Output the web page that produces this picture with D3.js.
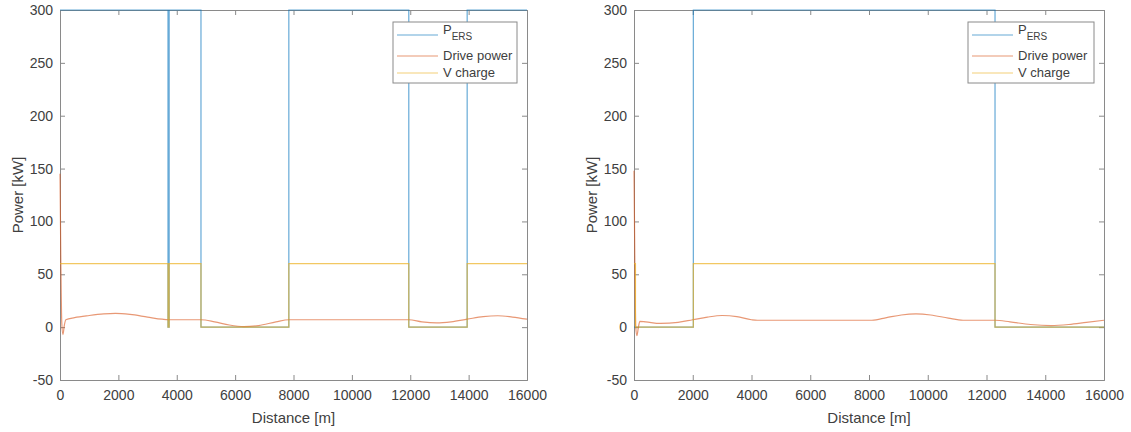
<!DOCTYPE html>
<html>
<head>
<meta charset="utf-8">
<script src="https://cdn.jsdelivr.net/npm/d3@7"></script>
<style>
  body { margin: 0; background: #fff; }
  svg text { font-family: "Liberation Sans", Arial, sans-serif; fill: #404040; }
  .axis path, .axis line { stroke: #8a8a8a; }
  .axis text { font-size: 14px; }
  .axis-title { font-size: 15px; }
  .legend text { font-size: 13px; }
</style>
</head>
<body>
<svg id="chart" width="1131" height="432"></svg>
<script>
// ---- data ----
const xTicks = [0, 2000, 4000, 6000, 8000, 10000, 12000, 14000, 16000];
const yTicks = [-50, 0, 50, 100, 150, 200, 250, 300];
const seriesNames = ['P', 'Drive power', 'V charge'];
const seriesColors = ['#0072BD', '#D95319', '#EDB120'];

// left panel: step changes [distance, value]
const leftPersDist = [0, 3700, 3740, 4830, 7840, 11950, 13950, 16000];
const leftPersVal  = [300, 0, 300, 0, 300, 0, 300, 300];
const leftChargeDist = [0, 3700, 3740, 4830, 7840, 11950, 13950, 16000];
const leftChargeVal  = [60, 0, 60, 0, 60, 0, 60, 60];
const leftDriveDist = [0, 30, 60, 100, 150, 200, 500, 1000, 1500, 1900, 2400, 3000, 3500, 3700,
  4830, 5300, 5800, 6300, 6800, 7400, 7840, 11950, 12400, 12900, 13400, 13950, 14500, 15000, 15500, 16000];
const leftDriveVal = [145, 60, 5, -7, 2, 7, 9, 11, 12.5, 13, 12, 9.5, 7.5, 7,
  7, 5, 2, 0.5, 1.5, 5, 7, 7, 5, 4, 5, 7.5, 10, 10.8, 9.5, 7.5];

// right panel
const rightPersDist = [0, 2020, 12290, 16000];
const rightPersVal  = [0, 300, 0, 0];
const rightChargeDist = [0, 50, 2020, 12290, 16000];
const rightChargeVal  = [60, 0, 60, 0, 0];
const rightDriveDist = [0, 30, 60, 100, 150, 200, 400, 900, 1500, 2000, 2500, 3000, 3500, 4000, 4200,
  8100, 8600, 9100, 9600, 10100, 10700, 11200, 12300, 12800, 13500, 14200, 14800, 15400, 16000];
const rightDriveVal = [148, 60, 0, -8, 0, 5.5, 5, 3.5, 4.5, 7, 9.5, 11, 10, 7, 6.5,
  6.5, 9, 11.5, 12.5, 11.5, 8.5, 6.5, 6.5, 5, 2.5, 1.5, 2.5, 4.5, 6.5];

const zip = (xs, ys) => xs.map((x, i) => ({x: x, y: ys[i]}));
const plain = d => String(d);   // plain hyphen for negatives, like the original

const svg = d3.select('#chart');

function drawPanel(cfg) {
  const g = svg.append('g');
  const xScale = d3.scaleLinear().domain([0, 16000]).range([cfg.left, cfg.right]);
  const yScale = d3.scaleLinear().domain([-50, 300]).range([cfg.bottom, cfg.top]);

  const stepLine = d3.line().x(d => xScale(d.x)).y(d => yScale(d.y)).curve(d3.curveStepAfter);
  const smoothLine = d3.line().x(d => xScale(d.x)).y(d => yScale(d.y)).curve(d3.curveMonotoneX);

  // box + inward ticks on all four sides (matlab style)
  g.append('g').attr('class', 'axis')
      .attr('transform', `translate(0,${cfg.bottom})`)
      .call(d3.axisBottom(xScale).tickValues(xTicks).tickSize(-5).tickPadding(10).tickFormat(plain));
  g.append('g').attr('class', 'axis')
      .attr('transform', `translate(0,${cfg.top})`)
      .call(d3.axisTop(xScale).tickValues(xTicks).tickSize(-5).tickFormat(''));
  g.append('g').attr('class', 'axis')
      .attr('transform', `translate(${cfg.left},0)`)
      .call(d3.axisLeft(yScale).tickValues(yTicks).tickSize(-5).tickPadding(7).tickFormat(plain));
  g.append('g').attr('class', 'axis')
      .attr('transform', `translate(${cfg.right},0)`)
      .call(d3.axisRight(yScale).tickValues(yTicks).tickSize(-5).tickFormat(''));

  const lines = g.append('g');
  lines.append('path')
      .attr('d', stepLine(zip(cfg.persDist, cfg.persVal)))
      .attr('fill', 'none').attr('stroke', seriesColors[0]).attr('stroke-opacity', 0.6).attr('stroke-width', 1.2);
  lines.append('path')
      .attr('d', smoothLine(zip(cfg.driveDist, cfg.driveVal)))
      .attr('fill', 'none').attr('stroke', seriesColors[1]).attr('stroke-opacity', 0.6).attr('stroke-width', 1.2);
  lines.append('path')
      .attr('d', stepLine(zip(cfg.chargeDist, cfg.chargeVal)))
      .attr('fill', 'none').attr('stroke', seriesColors[2]).attr('stroke-opacity', 0.7).attr('stroke-width', 1.2);

  // axis titles
  g.append('text')
      .attr('class', 'axis-title')
      .attr('x', (cfg.left + cfg.right) / 2)
      .attr('y', 423)
      .attr('text-anchor', 'middle')
      .text('Distance [m]');
  g.append('text')
      .attr('class', 'axis-title')
      .attr('transform', `translate(${cfg.left - 37},${(cfg.top + cfg.bottom) / 2}) rotate(-90)`)
      .attr('text-anchor', 'middle')
      .text('Power [kW]');

  // legend
  const lw = cfg.legendWidth, lx = cfg.right - 10 - lw, ly = cfg.top + 12;
  const leg = g.append('g').attr('class', 'legend');
  leg.append('rect')
      .attr('x', lx).attr('y', ly).attr('width', lw).attr('height', 61)
      .attr('fill', '#fff').attr('stroke', '#8a8a8a');
  const rowY = [ly + 13, ly + 34, ly + 51];
  seriesNames.forEach((name, i) => {
    leg.append('line')
        .attr('x1', lx + 4).attr('x2', lx + 45)
        .attr('y1', rowY[i]).attr('y2', rowY[i])
        .attr('stroke', seriesColors[i]).attr('stroke-opacity', 0.6).attr('stroke-width', 1.2);
    const t = leg.append('text')
        .attr('x', lx + 50).attr('y', rowY[i] + (i === 0 ? -1 : 4));
    t.append('tspan').text(name);
    if (i === 0) {
      t.append('tspan').attr('dy', 6).style('font-size', '10px').text('ERS');
    }
  });
}

drawPanel({left: 60, right: 527, top: 10, bottom: 380, legendWidth: 124,
  persDist: leftPersDist, persVal: leftPersVal,
  driveDist: leftDriveDist, driveVal: leftDriveVal,
  chargeDist: leftChargeDist, chargeVal: leftChargeVal});

drawPanel({left: 634, right: 1104, top: 10, bottom: 380, legendWidth: 126,
  persDist: rightPersDist, persVal: rightPersVal,
  driveDist: rightDriveDist, driveVal: rightDriveVal,
  chargeDist: rightChargeDist, chargeVal: rightChargeVal});
</script>
</body>
</html>
